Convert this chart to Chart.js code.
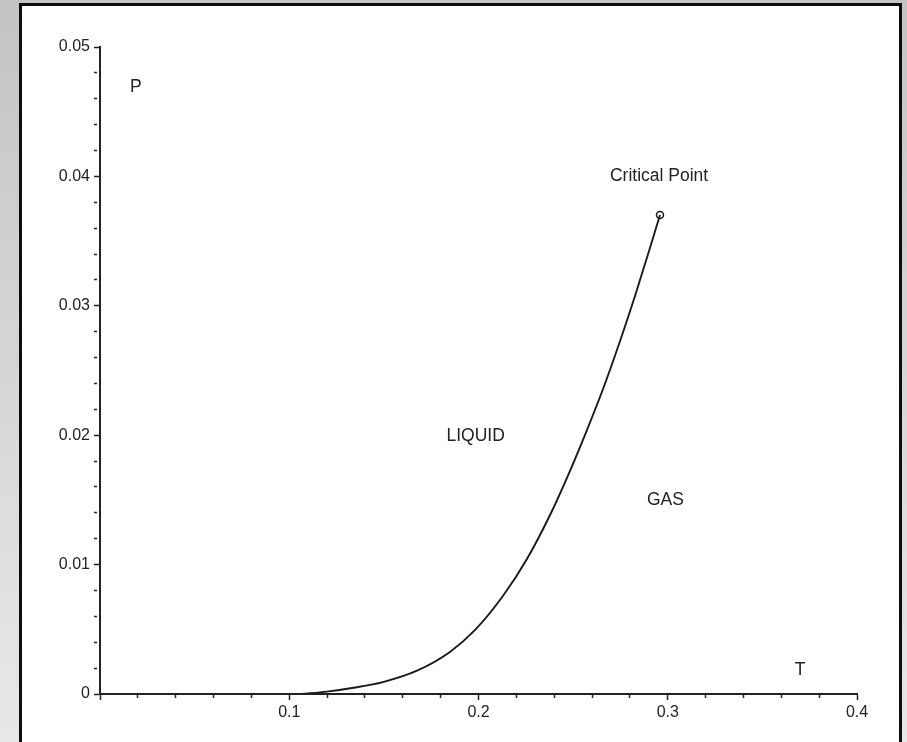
<!DOCTYPE html>
<html>
<head>
<meta charset="utf-8">
<script src="https://cdn.jsdelivr.net/npm/chart.js@4/dist/chart.umd.min.js"></script>
<style>
  html, body { margin: 0; padding: 0; }
  body {
    width: 907px; height: 742px; overflow: hidden; position: relative;
    background: linear-gradient(#c4c4c4, #e8e8e8);
  }
  #panel {
    position: absolute; left: 19px; top: 3px; width: 883px; height: 780px;
    box-sizing: border-box; border: 3px solid #0d0d0d; background: #fff;
  }
  #plot { position: absolute; left: 0; top: 0; }
</style>
</head>
<body>
<div id="panel"></div>
<canvas id="plot" width="907" height="742"></canvas>
<script>
// vapour pressure curve
const temps     = [0.1067, 0.1199, 0.1340, 0.1495, 0.1675, 0.1849, 0.1982, 0.2129, 0.2256, 0.2378, 0.2483, 0.2573, 0.2658, 0.2748, 0.2827, 0.2906, 0.2959];
const pressures = [0.0000, 0.00018, 0.00048, 0.00092, 0.0018, 0.00325, 0.00495, 0.00757, 0.01043, 0.01383, 0.01723, 0.0204, 0.02357, 0.02728, 0.03076, 0.03447, 0.03702];

const criticalT = 0.2959;
const criticalP = 0.03702;

// axis ranges and labelled ticks
const xMin = 0, xMax = 0.4, xStep = 0.02, xMajor = 0.1;
const yMin = 0, yMax = 0.05, yStep = 0.002, yMajor = 0.01;

// text written on the plot (in data coordinates)
const noteText = ['P', 'Critical Point', 'LIQUID', 'GAS', 'T'];
const noteT    = [0.0190, 0.2954, 0.1985, 0.2988, 0.3699];
const noteP    = [0.0469, 0.0400, 0.0199, 0.0150, 0.00182];

const curve = temps.map((t, i) => ({ x: t, y: pressures[i] }));

function isMajor(v, step) {
  const r = v / step;
  return Math.abs(r - Math.round(r)) < 1e-6;
}

const ink = '#222';
const tickFont = { family: '"Liberation Sans", Arial, sans-serif', size: 16 };

const notes = {
  id: 'notes',
  afterDatasetsDraw(chart) {
    const ctx = chart.ctx;
    const xs = chart.scales.x, ys = chart.scales.y;
    ctx.save();
    ctx.fillStyle = ink;
    ctx.font = '17.5px "Liberation Sans", Arial, sans-serif';
    ctx.textAlign = 'center';
    ctx.textBaseline = 'middle';
    noteText.forEach((txt, i) => {
      ctx.fillText(txt, xs.getPixelForValue(noteT[i]), ys.getPixelForValue(noteP[i]));
    });
    ctx.restore();
  }
};

new Chart(document.getElementById('plot'), {
  type: 'scatter',
  data: {
    datasets: [{
      data: curve,
      showLine: true,
      borderColor: '#1a1a1a',
      borderWidth: 1.9,
      pointRadius: 0,
      cubicInterpolationMode: 'monotone'
    }, {
      data: [{ x: criticalT, y: criticalP }],
      pointRadius: 3.5,
      pointBorderWidth: 1.5,
      pointBorderColor: '#1a1a1a',
      pointBackgroundColor: 'rgba(255,255,255,0)'
    }]
  },
  options: {
    responsive: false,
    animation: false,
    layout: { padding: { left: 0, right: 50, top: 47, bottom: 0 } },
    plugins: { legend: { display: false }, tooltip: { enabled: false } },
    scales: {
      x: {
        type: 'linear',
        min: xMin, max: xMax,
        afterFit: (s) => { s.height = 48; },
        border: { color: ink, width: 2 },
        grid: {
          drawOnChartArea: false,
          tickLength: 6,
          tickColor: ink,
          tickWidth: 1.5,
          tickBorderDash: (c) => isMajor(c.tick.value, xMajor) ? [] : [3, 20]
        },
        ticks: {
          stepSize: xStep,
          autoSkip: false,
          maxRotation: 0,
          padding: 3,
          color: ink,
          font: tickFont,
          callback: (v) => (v !== 0 && isMajor(v, xMajor)) ? v.toFixed(1) : ''
        }
      },
      y: {
        type: 'linear',
        min: yMin, max: yMax,
        afterFit: (s) => { s.width = 100; },
        border: { color: ink, width: 2 },
        grid: {
          drawOnChartArea: false,
          tickLength: 6,
          tickColor: ink,
          tickWidth: 1.5,
          tickBorderDash: (c) => isMajor(c.tick.value, yMajor) ? [] : [3, 20]
        },
        ticks: {
          stepSize: yStep,
          autoSkip: false,
          padding: 4,
          color: ink,
          font: tickFont,
          callback: (v) => isMajor(v, yMajor) ? (v === 0 ? '0' : v.toFixed(2)) : ''
        }
      }
    }
  },
  plugins: [notes]
});
</script>
</body>
</html>
